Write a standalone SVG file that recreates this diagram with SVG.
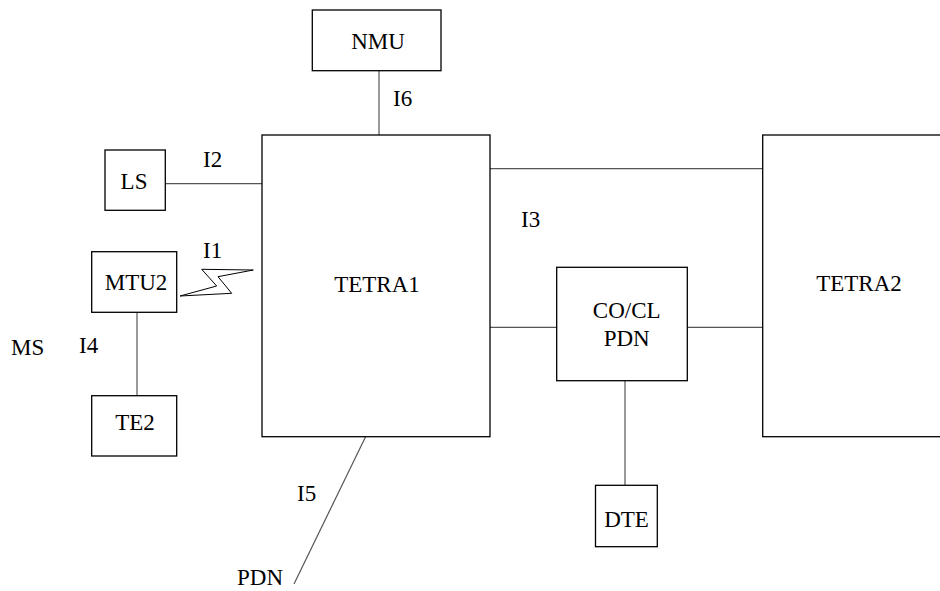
<svg xmlns="http://www.w3.org/2000/svg" width="940" height="591" viewBox="0 0 940 591">
<style>
.box{fill:#fff;stroke:#000;stroke-width:1.3}
.ln{fill:none;stroke:#555;stroke-width:1.2}
.c{text-anchor:middle}
text{font-family:"Liberation Serif","Noto Serif","DejaVu Serif",serif;font-size:23px}
</style>
<rect width="940" height="591" fill="#fff"/>
<g id="connectors">
<line class="ln" x1="379" y1="71" x2="379" y2="135"/>
<line class="ln" x1="165" y1="183.7" x2="262" y2="183.7"/>
<line class="ln" x1="137" y1="312" x2="137" y2="396"/>
<line class="ln" x1="490" y1="168.7" x2="763" y2="168.7"/>
<line class="ln" x1="490" y1="327.3" x2="557" y2="327.3"/>
<line class="ln" x1="687" y1="327.3" x2="763" y2="327.3"/>
<line class="ln" x1="625" y1="381" x2="625" y2="485"/>
<line class="ln" x1="365.7" y1="436.5" x2="294" y2="584"/>
<polygon points="180,296 216.7,286 201.7,269.3 253.3,270 218,276.7 231.7,293.3" fill="#fff" stroke="#000" stroke-width="1"/>
<text x="393" y="106">I6</text>
<text x="203" y="167">I2</text>
<text x="203" y="258">I1</text>
<text x="79" y="353">I4</text>
<text x="297" y="501">I5</text>
<text x="521" y="227">I3</text>
</g>
<g id="NMU"><rect class="box" x="312.3" y="10" width="128.7" height="60.7"/><text class="c" x="378" y="49">NMU</text></g>
<g id="TETRA1"><rect class="box" x="262" y="135" width="228" height="301.7"/><text class="c" x="377" y="291.5">TETRA1</text></g>
<g id="TETRA2"><rect class="box" x="762.7" y="135" width="190" height="301.7"/><text class="c" x="859" y="290.7">TETRA2</text></g>
<g id="LS"><rect class="box" x="105" y="150" width="60.3" height="60.3"/><text class="c" x="134" y="189.3">LS</text></g>
<g id="MTU2"><rect class="box" x="91.7" y="251.7" width="85" height="60.6"/><text class="c" x="136" y="290">MTU2</text></g>
<g id="TE2"><rect class="box" x="91.7" y="395.7" width="85" height="60.3"/><text class="c" x="135" y="430">TE2</text></g>
<g id="COCLPDN"><rect class="box" x="556.7" y="267.3" width="130.6" height="113.4"/><text class="c" x="626.7" y="318">CO/CL</text><text class="c" x="626.7" y="345.7">PDN</text></g>
<g id="DTE"><rect class="box" x="595.5" y="485.3" width="61.8" height="61.4"/><text class="c" x="626.5" y="527">DTE</text></g>
<g id="MS"><text x="11" y="355">MS</text></g>
<g id="PDN"><text x="237" y="585">PDN</text></g>
</svg>
